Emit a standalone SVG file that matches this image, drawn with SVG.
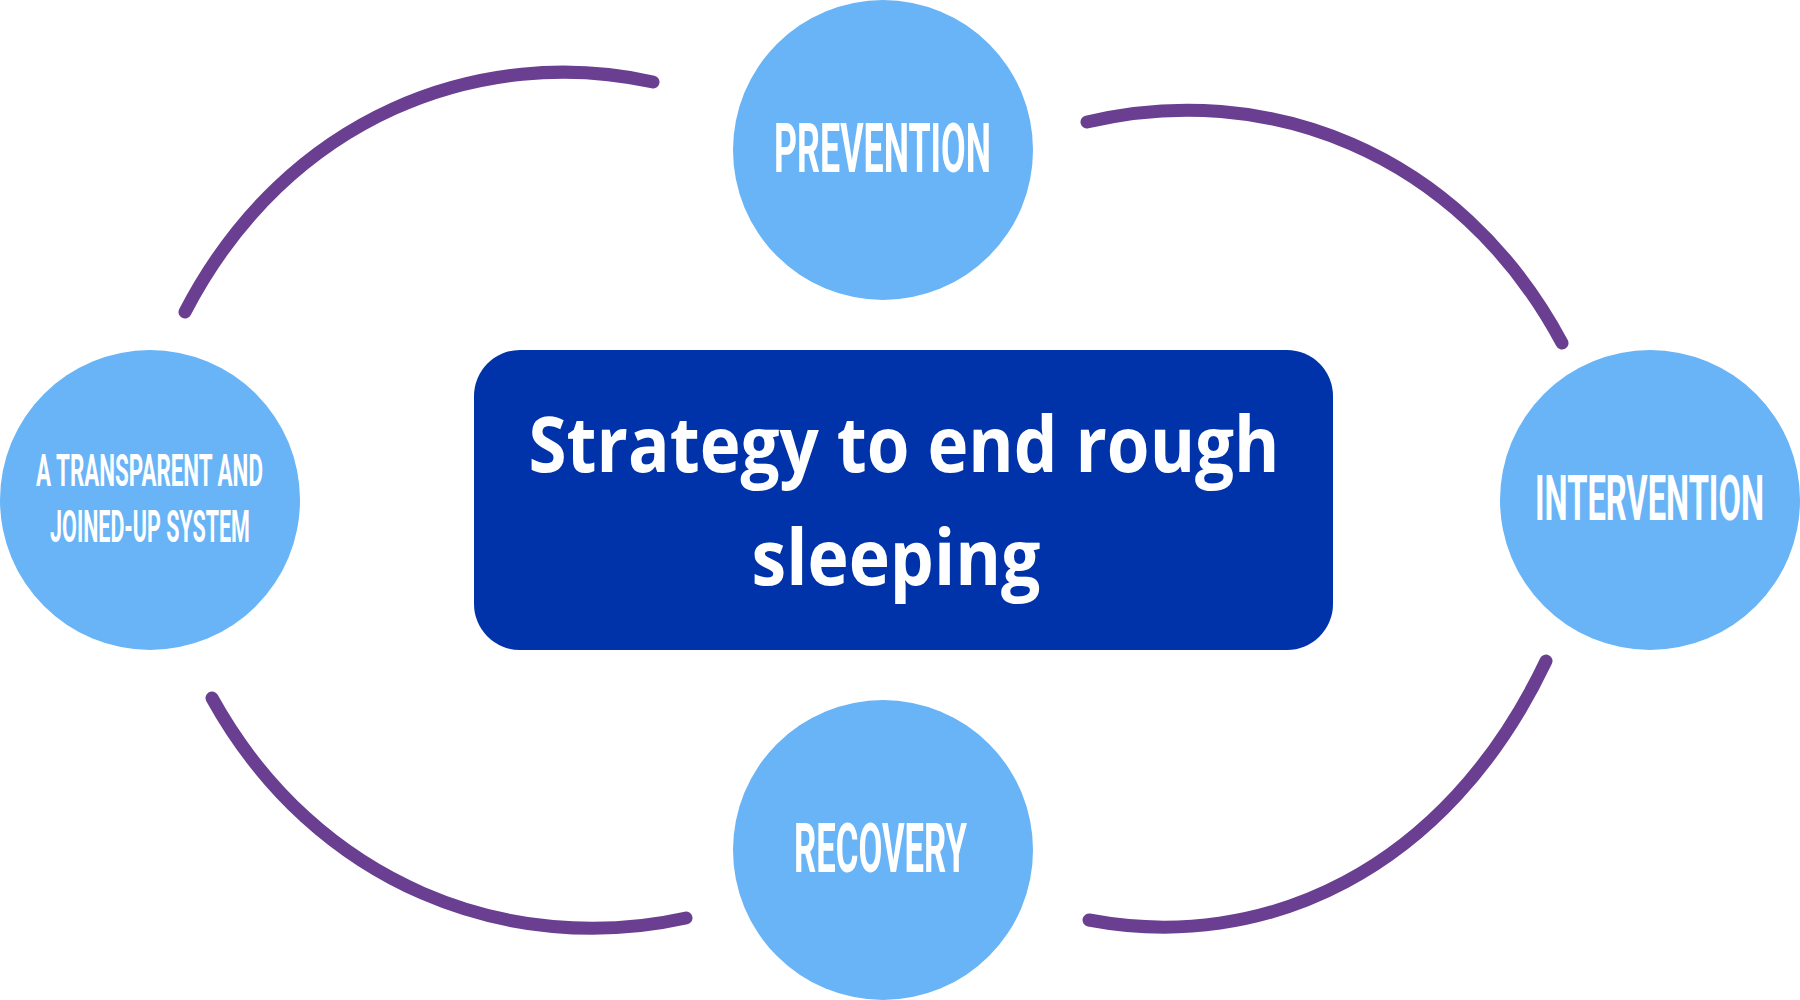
<svg xmlns="http://www.w3.org/2000/svg" width="1800" height="1000" viewBox="0 0 1800 1000">
<style>
.node{fill:#69B4F6}
.lbl{font-family:Roboto,"Liberation Sans",sans-serif;font-weight:700;fill:#FFFFFF;text-anchor:middle}
.title{font-family:"Open Sans","Noto Sans","Liberation Sans",sans-serif;font-weight:700;fill:#FFFFFF;text-anchor:middle;font-size:77px}
.arc{fill:none;stroke:#6A3F91;stroke-width:13;stroke-linecap:round}
</style>
<rect width="1800" height="1000" fill="#FFFFFF"/>
<g id="connectors">
<path class="arc" d="M185,312 C287,115 482,44 653,82"/>
<path class="arc" d="M1087,122 C1263,80 1458,149 1562,343"/>
<path class="arc" d="M212,698 C316,886 511,957 686,918"/>
<path class="arc" d="M1546,661 C1446,872 1263,953 1089,920"/>
</g>
<g id="center">
<rect x="474" y="350" width="859" height="300" rx="46" ry="46" fill="#0033A9"/>
<text class="title" x="904" y="472" textLength="751" lengthAdjust="spacingAndGlyphs">Strategy to end rough</text>
<text class="title" x="896" y="585" textLength="289" lengthAdjust="spacingAndGlyphs">sleeping</text>
</g>
<g id="prevention">
<circle class="node" cx="883" cy="150" r="150"/>
<text class="lbl" transform="translate(882.5,172) scale(0.48,1)" x="0" y="0" font-size="69" textLength="452" lengthAdjust="spacingAndGlyphs">PREVENTION</text>
</g>
<g id="intervention">
<circle class="node" cx="1650" cy="500" r="150"/>
<text class="lbl" transform="translate(1649.5,520) scale(0.48,1)" x="0" y="0" font-size="63" textLength="477" lengthAdjust="spacingAndGlyphs">INTERVENTION</text>
</g>
<g id="recovery">
<circle class="node" cx="883" cy="850" r="150"/>
<text class="lbl" transform="translate(880.5,872) scale(0.48,1)" x="0" y="0" font-size="69" textLength="360" lengthAdjust="spacingAndGlyphs">RECOVERY</text>
</g>
<g id="system">
<circle class="node" cx="150" cy="500" r="150"/>
<text class="lbl" transform="translate(149.5,486) scale(0.6,1)" x="0" y="0" font-size="44" textLength="378" lengthAdjust="spacingAndGlyphs">A TRANSPARENT AND</text>
<text class="lbl" transform="translate(150,542) scale(0.6,1)" x="0" y="0" font-size="44" textLength="333" lengthAdjust="spacingAndGlyphs">JOINED-UP SYSTEM</text>
</g>
</svg>
